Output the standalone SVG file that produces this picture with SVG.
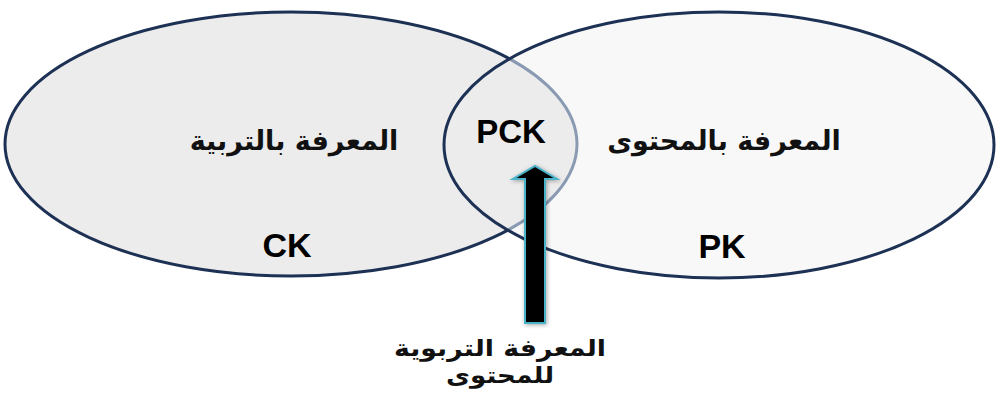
<svg xmlns="http://www.w3.org/2000/svg" width="996" height="396" viewBox="0 0 996 396">
  <style>
    .lat { font-family: "Liberation Sans", Arial, sans-serif; font-weight: bold; fill: #000; text-anchor: middle; }
    .ar { font-family: "DejaVu Sans", "Noto Sans", sans-serif; font-weight: bold; fill: #111; text-anchor: middle; direction: rtl; font-size: 27px; }
    .arb { font-family: "DejaVu Sans", "Noto Sans", sans-serif; font-weight: bold; fill: #111; text-anchor: middle; direction: rtl; font-size: 23px; }
  </style>
  <defs>
    <clipPath id="inRight"><ellipse cx="719" cy="145" rx="275" ry="133"/></clipPath>
    <mask id="outRight">
      <rect x="0" y="0" width="996" height="396" fill="#fff"/>
      <ellipse cx="719" cy="145" rx="275" ry="133" fill="#000"/>
    </mask>
    <filter id="glow" x="-50%" y="-20%" width="200%" height="140%">
      <feGaussianBlur in="SourceAlpha" stdDeviation="2"/>
      <feOffset dx="1" dy="1" result="b"/>
      <feFlood flood-color="#000" flood-opacity="0.35"/>
      <feComposite in2="b" operator="in" result="s"/>
      <feMerge><feMergeNode in="s"/><feMergeNode in="SourceGraphic"/></feMerge>
    </filter>
  </defs>
  <rect width="996" height="396" fill="#fff"/>
  <g id="pk">
    <ellipse cx="719" cy="145" rx="275" ry="133" fill="#f8f8f8"/>
  </g>
  <g id="ck">
    <ellipse cx="291" cy="144" rx="286" ry="132" fill="#ececec"/>
    <ellipse cx="291" cy="144" rx="286" ry="132" fill="none" stroke="#8a9ab2" stroke-width="3" clip-path="url(#inRight)"/>
    <ellipse cx="291" cy="144" rx="286" ry="132" fill="none" stroke="#1d3154" stroke-width="3" mask="url(#outRight)"/>
    <text class="ar" x="294" y="150">المعرفة بالتربية</text>
    <text class="lat" x="287" y="257" font-size="34">CK</text>
  </g>
  <g id="pk-outline">
    <ellipse cx="719" cy="145" rx="275" ry="133" fill="none" stroke="#1d3154" stroke-width="3"/>
    <text class="ar" x="724" y="150">المعرفة بالمحتوى</text>
    <text class="lat" x="722" y="258" font-size="34">PK</text>
  </g>
  <g id="pck">
    <text class="lat" x="511" y="143" font-size="33">PCK</text>
  </g>
  <g id="connectors">
    <polygon points="525,323 545,323 545,179 557,179 535,166 513,179 525,179" fill="#000" stroke="#4cb3c9" stroke-width="2" stroke-linejoin="miter" filter="url(#glow)"/>
  </g>
  <g id="label-pck">
    <text class="arb" x="500" y="356" textLength="212" lengthAdjust="spacingAndGlyphs">المعرفة التربوية</text>
    <text class="arb" x="500" y="383" textLength="108" lengthAdjust="spacingAndGlyphs">للمحتوى</text>
  </g>
</svg>
